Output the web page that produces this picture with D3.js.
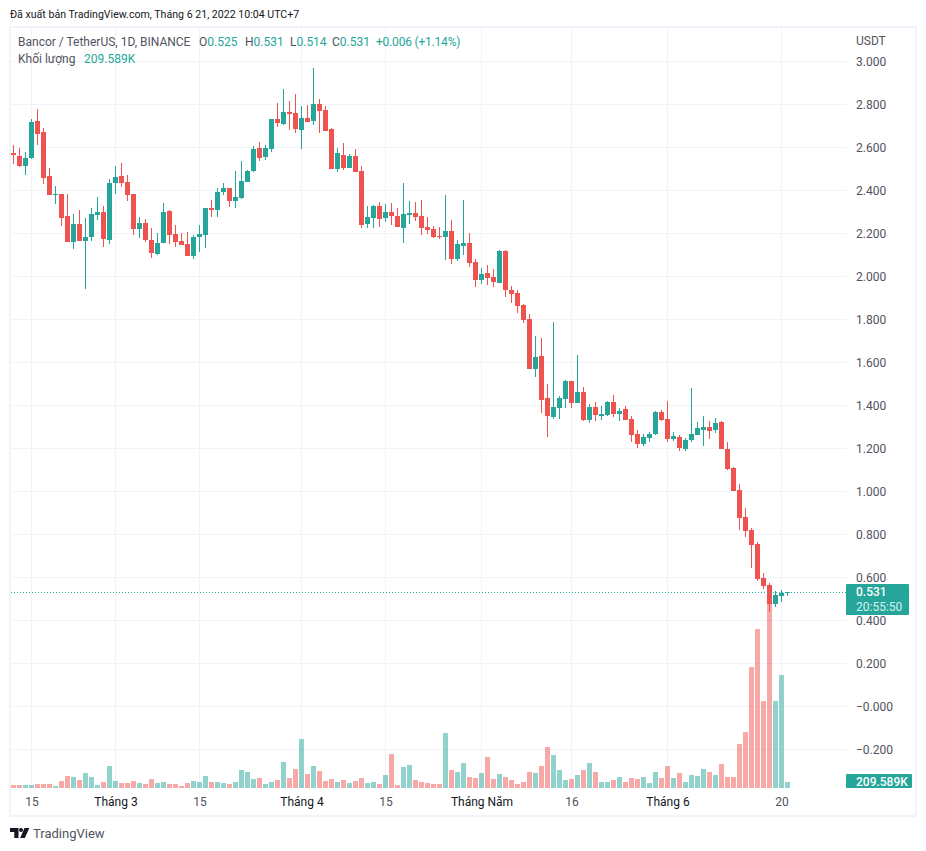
<!DOCTYPE html>
<html>
<head>
<meta charset="utf-8">
<script src="https://cdnjs.cloudflare.com/ajax/libs/d3/7.8.5/d3.min.js"></script>
<style>
	html, body { margin: 0; padding: 0; background: #fff; }
	svg { display: block; }
	text { font-family: Roboto, sans-serif; }
</style>
</head>
<body>
<div id="chart"></div>
<script>
var opens = [2.574,2.560,2.513,2.550,2.723,2.671,2.467,2.378,2.383,2.281,2.160,2.243,2.164,2.183,2.285,2.299,2.169,2.434,2.467,2.439,2.383,2.220,2.248,2.169,2.104,2.155,2.304,2.197,2.164,2.150,2.095,2.183,2.192,2.318,2.309,2.392,2.411,2.350,2.364,2.439,2.490,2.597,2.555,2.592,2.732,2.709,2.764,2.760,2.681,2.737,2.723,2.802,2.774,2.685,2.499,2.564,2.504,2.560,2.490,2.243,2.271,2.327,2.271,2.299,2.281,2.225,2.285,2.295,2.281,2.229,2.220,2.188,2.183,2.211,2.081,2.141,2.155,2.067,1.983,2.016,1.997,1.969,2.118,1.936,1.922,1.867,1.802,1.569,1.630,1.434,1.346,1.388,1.430,1.513,1.411,1.462,1.332,1.392,1.350,1.355,1.416,1.360,1.383,1.336,1.267,1.220,1.248,1.267,1.369,1.336,1.243,1.253,1.197,1.239,1.262,1.285,1.299,1.285,1.322,1.197,1.109,1.006,0.881,0.820,0.755,0.597,0.564,0.476,0.513,0.525];
var highs = [2.611,2.597,2.578,2.732,2.778,2.690,2.504,2.420,2.383,2.383,2.290,2.309,2.271,2.318,2.369,2.327,2.453,2.513,2.527,2.471,2.383,2.276,2.267,2.225,2.202,2.341,2.309,2.239,2.202,2.206,2.192,2.239,2.318,2.355,2.411,2.434,2.411,2.490,2.537,2.495,2.606,2.625,2.611,2.732,2.806,2.871,2.816,2.848,2.792,2.797,2.969,2.825,2.792,2.690,2.597,2.620,2.569,2.592,2.513,2.327,2.332,2.346,2.336,2.341,2.318,2.434,2.350,2.346,2.355,2.276,2.234,2.229,2.378,2.262,2.169,2.355,2.202,2.081,2.039,2.053,2.034,2.123,2.123,1.955,1.936,1.871,1.825,1.722,1.713,1.499,1.788,1.443,1.518,1.513,1.634,1.485,1.406,1.416,1.397,1.420,1.448,1.388,1.397,1.350,1.285,1.267,1.276,1.374,1.378,1.420,1.276,1.262,1.248,1.481,1.322,1.350,1.327,1.341,1.327,1.229,1.113,1.034,0.923,0.830,0.764,0.620,0.574,0.536,0.541,0.531];
var lows = [2.523,2.510,2.471,2.546,2.611,2.430,2.378,2.337,2.234,2.160,2.127,2.164,1.941,2.164,2.262,2.137,2.150,2.383,2.416,2.350,2.192,2.178,2.160,2.085,2.099,2.155,2.150,2.137,2.146,2.095,2.081,2.113,2.132,2.276,2.276,2.378,2.323,2.318,2.360,2.439,2.485,2.537,2.541,2.578,2.695,2.704,2.681,2.667,2.592,2.718,2.704,2.667,2.676,2.499,2.485,2.495,2.504,2.485,2.225,2.225,2.225,2.229,2.253,2.239,2.229,2.155,2.243,2.257,2.192,2.197,2.178,2.174,2.076,2.057,2.071,2.099,2.043,1.950,1.964,1.960,1.950,1.969,1.904,1.876,1.829,1.783,1.569,1.532,1.364,1.253,1.336,1.336,1.388,1.388,1.411,1.327,1.318,1.327,1.332,1.350,1.346,1.327,1.332,1.229,1.202,1.211,1.229,1.262,1.327,1.229,1.234,1.188,1.188,1.229,1.262,1.211,1.243,1.271,1.197,1.099,1.002,0.820,0.788,0.643,0.583,0.546,0.439,0.462,0.485,0.514];
var closes = [2.564,2.513,2.550,2.718,2.662,2.457,2.378,2.383,2.271,2.160,2.243,2.164,2.183,2.290,2.299,2.174,2.434,2.462,2.434,2.378,2.220,2.248,2.169,2.109,2.155,2.299,2.192,2.160,2.146,2.095,2.183,2.197,2.318,2.309,2.392,2.411,2.350,2.369,2.443,2.490,2.592,2.550,2.597,2.732,2.713,2.764,2.755,2.685,2.737,2.718,2.802,2.769,2.676,2.499,2.574,2.504,2.560,2.485,2.239,2.276,2.327,2.267,2.299,2.281,2.229,2.290,2.295,2.276,2.225,2.215,2.183,2.183,2.211,2.081,2.150,2.155,2.062,1.983,2.011,1.992,1.974,2.118,1.936,1.918,1.862,1.797,1.569,1.625,1.425,1.350,1.392,1.434,1.513,1.411,1.462,1.332,1.392,1.355,1.360,1.416,1.360,1.374,1.332,1.262,1.220,1.253,1.267,1.369,1.332,1.243,1.257,1.202,1.239,1.267,1.295,1.299,1.281,1.318,1.197,1.104,1.002,0.876,0.816,0.750,0.592,0.560,0.476,0.518,0.527,0.531];
// volume in thousands of BNT
var volumes = [108,108,108,108,144,144,144,72,252,432,396,288,540,396,108,216,792,252,180,180,252,180,144,324,180,216,144,144,72,180,252,216,432,216,216,180,144,216,648,576,324,360,144,216,288,936,360,684,1764,504,792,612,252,324,216,288,180,252,360,180,216,144,468,1224,108,756,828,288,216,180,144,144,1980,648,576,900,396,360,540,1116,324,504,396,288,144,216,576,540,792,1476,1188,648,288,324,468,648,900,576,216,216,288,396,216,360,324,396,180,576,360,792,360,540,216,468,432,684,576,468,864,396,396,1584,2016,4356,5724,3132,6912,3132,4068,209.589];
var priceTicks = [3,2.8,2.6,2.4,2.2,2,1.8,1.6,1.4,1.2,1,0.8,0.6,0.4,0.2,0,-0.2];
var tickDates = ["2022-02-15","2022-03-01","2022-03-15","2022-04-01","2022-04-15","2022-05-01","2022-05-16","2022-06-01","2022-06-20"];
var tickLabels = ["15","Tháng 3","15","Tháng 4","15","Tháng Năm","16","Tháng 6","20"];
var lastPrice = 0.531;

var UP = "#26a69a", DOWN = "#ef5350", GRID = "#f0f3fa", TEXT = "#131722", AXIS = "#50535e";
var FONT = "Roboto, sans-serif";
var width = 926, height = 851;
var paneLeft = 11, paneRight = 846, paneTop = 28, paneBottom = 788;

var svg = d3.select("#chart").append("svg").attr("width", width).attr("height", height);

var day0 = Date.UTC(2022, 1, 12);
var dates = opens.map(function(d, i) { return new Date(day0 + i * 864e5); });
var tDates = tickDates.map(function(d) { return new Date(d + "T00:00:00Z"); });

var x = d3.scaleUtc().domain([dates[0], dates[dates.length - 1]]).range([13.5, 787.5]);
var y = d3.scaleLinear().domain([-0.2, 3]).range([749.3, 61.3]);
var v = d3.scaleLinear().domain([0, 6912]).range([paneBottom, 596]);

function color(i) { return closes[i] >= opens[i] ? UP : DOWN; }
function snap(n) { return Math.floor(n) + 0.5; }

// outer frame
svg.append("rect").attr("x", 10).attr("y", 27).attr("width", 906).attr("height", 789)
	.attr("fill", "none").attr("stroke", "#f0f3fa").attr("stroke-width", 2);

// grid
svg.append("g").selectAll("line").data(priceTicks).join("line")
	.attr("x1", paneLeft).attr("x2", paneRight)
	.attr("y1", function(d) { return snap(y(d)); }).attr("y2", function(d) { return snap(y(d)); })
	.attr("stroke", GRID);
svg.append("g").selectAll("line").data(tDates).join("line")
	.attr("x1", function(d) { return snap(x(d)); }).attr("x2", function(d) { return snap(x(d)); })
	.attr("y1", paneTop).attr("y2", paneBottom)
	.attr("stroke", GRID);

// volume
svg.append("g").attr("shape-rendering", "crispEdges").selectAll("rect").data(volumes).join("rect")
	.attr("x", function(d, i) { return x(dates[i]) - 2.5; })
	.attr("width", 5)
	.attr("y", function(d) { return v(d); })
	.attr("height", function(d) { return paneBottom - v(d); })
	.attr("fill", function(d, i) { return color(i); })
	.attr("fill-opacity", 0.5);

// candles
var candles = svg.append("g").attr("shape-rendering", "crispEdges").selectAll("g").data(opens).join("g");
candles.append("line")
	.attr("x1", function(d, i) { return x(dates[i]); }).attr("x2", function(d, i) { return x(dates[i]); })
	.attr("y1", function(d, i) { return y(highs[i]); }).attr("y2", function(d, i) { return y(lows[i]); })
	.attr("stroke", function(d, i) { return color(i); });
candles.append("rect")
	.attr("x", function(d, i) { return x(dates[i]) - 2.5; })
	.attr("width", 5)
	.attr("y", function(d, i) { return y(Math.max(opens[i], closes[i])); })
	.attr("height", function(d, i) { return Math.max(1, Math.abs(y(opens[i]) - y(closes[i]))); })
	.attr("fill", function(d, i) { return color(i); });

// last price line
svg.append("line").attr("x1", paneLeft).attr("x2", paneRight)
	.attr("y1", snap(y(lastPrice))).attr("y2", snap(y(lastPrice)))
	.attr("stroke", UP).attr("stroke-dasharray", "1,2");

// price axis
var yAxis = svg.append("g").attr("transform", "translate(" + paneRight + ",0)")
	.call(d3.axisRight(y).tickValues(priceTicks).tickSize(0).tickPadding(10)
		.tickFormat(function(d) { return (d <= 0 ? "\u2212" : "") + Math.abs(d).toFixed(3); }));
yAxis.select(".domain").remove();
yAxis.selectAll("text").attr("font-size", 12).attr("fill", AXIS).style("font-family", FONT);

// time axis
var xAxis = svg.append("g").attr("transform", "translate(0," + paneBottom + ")")
	.call(d3.axisBottom(x).tickValues(tDates).tickSize(0).tickPadding(9)
		.tickFormat(function(d, i) { return tickLabels[i]; }));
xAxis.select(".domain").remove();
xAxis.selectAll("text").attr("font-size", 12)
	.attr("fill", function(d, i) { return /Th/.test(tickLabels[i]) ? TEXT : AXIS; })
	.style("font-family", FONT);

function label(xp, yp, str, size, fill, weight) {
	return svg.append("text").attr("x", xp).attr("y", yp).attr("font-size", size)
		.attr("fill", fill).attr("font-weight", weight || 400).text(str);
}

label(856, 45, "USDT", 12, AXIS);

// price and volume tags
svg.append("rect").attr("x", paneRight).attr("y", 584).attr("width", 63).attr("height", 31).attr("rx", 1).attr("fill", UP);
label(856, 596, "0.531", 12, "#fff", 500);
label(856, 611, "20:55:50", 12, "#d6f0ed");
svg.append("rect").attr("x", paneRight).attr("y", 774).attr("width", 66).attr("height", 14).attr("rx", 1).attr("fill", UP);
label(856, 786, "209.589K", 12, "#fff", 500);

// header and legend
label(10, 18, "Đã xuất bản TradingView.com, Tháng 6 21, 2022 10:04 UTC+7", 10.6, TEXT);
label(18, 46, "Bancor / TetherUS, 1D, BINANCE", 12, AXIS);
var legendLabels = ["O", "H", "L", "C"];
var legendValues = ["0.525", "0.531", "0.514", "0.531"];
var legendX = [199, 245, 290, 332];
legendLabels.forEach(function(d, i) {
	var t = label(legendX[i], 46, d, 12, AXIS);
	t.append("tspan").attr("fill", UP).text(legendValues[i]);
});
label(376, 46, "+0.006 (+1.14%)", 12, UP).attr("letter-spacing", -0.2);
label(18, 63, "Khối lượng", 12, AXIS);
label(84, 63, "209.589K", 12, UP);

// TradingView logo
var logo = svg.append("g").attr("fill", "#131722");
logo.append("path").attr("d", "M10 828h8.5v10h-4.2v-6h-4.3z");
logo.append("circle").attr("cx", 21).attr("cy", 830).attr("r", 2);
logo.append("path").attr("d", "M24.5 828h4.8l-4.4 10h-4.8z");
label(33, 838, "TradingView", 13, "#50535e");
</script>
</body>
</html>
